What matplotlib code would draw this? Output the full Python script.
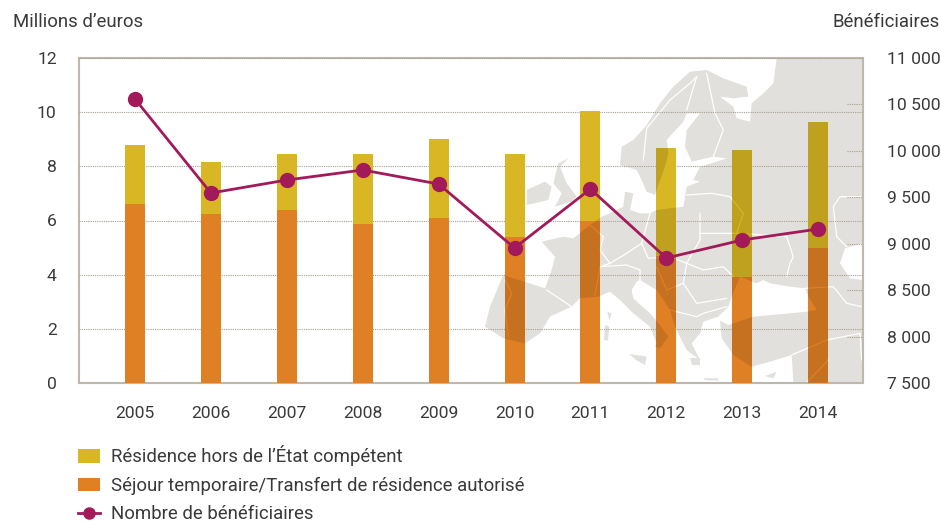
import matplotlib
matplotlib.use("Agg")
import matplotlib.pyplot as plt
from matplotlib.patches import Polygon
from matplotlib.path import Path
from matplotlib.lines import Line2D
from matplotlib.transforms import Affine2D

plt.rcParams['font.family'] = ['Roboto', 'DejaVu Sans']

years = [2005, 2006, 2007, 2008, 2009, 2010, 2011, 2012, 2013, 2014]
sejour = [6.60, 6.25, 6.38, 5.87, 6.08, 5.40, 5.98, 4.70, 3.91, 4.98]
hors_etat = [2.19, 1.91, 2.08, 2.59, 2.93, 3.06, 4.06, 3.98, 4.69, 4.66]
beneficiaires = [10558, 9546, 9686, 9794, 9643, 8954, 9589, 8846, 9040, 9158]
left_ticks = [0, 2, 4, 6, 8, 10, 12]
right_ticks = [7500, 8000, 8500, 9000, 9500, 10000, 10500, 11000]
right_labels = ['7 500', '8 000', '8 500', '9 000', '9 500', '10 000', '10 500', '11 000']
label_hors = "Résidence hors de l’État compétent"
label_sejour = "Séjour temporaire/Transfert de résidence autorisé"
label_benef = "Nombre de bénéficiaires"

YELLOW, ORANGE, PURPLE = '#D9B624', '#E08025', '#A31A5B'
MAP = '#E2E0DC'
FRAME = '#BFB8AE'
GRID = '#A89E92'
TEXT = '#3A3A3A'
W, H = 941, 522
STEP = 75.9

# Decorative background map, traced in crop coordinates
land = [
 (450,345),(500,360),(510,380),(530,425),(555,435),(565,405),(585,350),(595,310),(590,270),(640,215),
 (650,190),(690,190),(650,240),(645,290),(665,335),(730,320),(770,325),(740,335),(690,350),(670,390),
 (690,395),(650,410),(640,470),(560,480),(540,490),(510,490),(480,480),(490,430),(465,425),(460,470),
 (420,490),(395,500),(360,525),(310,565),(280,560),(215,575),(255,620),(245,660),(225,715),(100,675),
 (60,770),(45,830),(100,865),(165,880),(210,850),(240,800),(305,770),(330,745),(385,740),(420,725),
 (450,750),(490,790),(540,830),(560,880),(555,890),(570,895),(595,860),(570,825),(540,790),(490,745),
 (485,720),(500,695),(510,690),(560,720),(600,780),(615,830),(640,880),(650,900),(690,930),(665,880),
 (690,850),(700,815),(745,800),(775,770),(785,740),(810,680),(860,700),(880,690),(900,700),(960,710),
 (1005,715),(1015,740),(1040,780),(1010,785),(960,790),(850,800),(775,825),(750,812),(755,865),(790,915),
 (845,950),(900,935),(965,915),(970,998),(1178,998),(1178,690),(1140,685),(1110,640),(1125,595),(1178,580),
 (1178,24),(920,24),(910,100),(880,130),(845,160),(840,215),(800,205),(790,170),(750,140),(790,145),
 (835,140),(830,110),(760,85),(710,60),(660,65),(610,110),(570,160),(530,225),(490,270),(455,290)]
islands = [
 [(295,325),(270,350),(290,400),(320,440),(305,455),(255,470),(275,430),(250,400),(265,340)],
 [(170,420),(225,395),(245,410),(235,450),(170,465)],
 [(478,912),(530,920),(525,945),(495,928)],
 [(412,785),(425,790),(418,812)],
 [(405,825),(418,830),(414,872),(402,870)],
 [(885,978),(920,965),(910,985)],
 [(700,985),(745,985),(745,992),(705,990)],
 [(660,925),(690,925),(690,945),(665,945)],
]
borders = [
 [(105,690),(125,730),(105,780),(115,860)],
 [(230,720),(305,770)],
 [(360,525),(400,560),(390,600),(420,640),(390,650),(385,680),(375,735)],
 [(390,650),(470,645),(510,660),(510,690)],
 [(540,490),(515,580),(535,625),(600,620),(650,640),(690,570),(690,490)],
 [(515,580),(470,610),(420,640)],
 [(520,330),(530,235),(600,150),(660,100),(680,80)],
 [(680,80),(650,180)],
 [(710,70),(735,190),(760,240),(730,320)],
 [(650,435),(725,430),(780,440),(820,490),(800,550)],
 [(690,550),(800,550),(950,560),(970,620),(960,640),(950,680)],
 [(650,640),(700,660),(760,650),(790,680)],
 [(650,640),(640,700),(680,760),(770,745)],
 [(560,650),(590,720),(640,700)],
 [(600,780),(640,790),(680,800),(700,790),(770,770)],
 [(1005,715),(1090,710),(1130,760),(1175,770)],
 [(965,915),(1070,870),(1170,850),(1175,930)],
 [(1090,470),(1110,440),(1178,440)],
 [(1090,470),(1100,560),(1130,590)],
 [(1075,930),(1010,998)],
]

fig = plt.figure(figsize=(W/100, H/100), dpi=100)
ax = fig.add_axes([79/W, 1-383/H, (863-79)/W, (383-58)/H])
ax.set_xlim((79-135)/STEP, (863-135)/STEP)
ax.set_ylim(0, 12)

px = Affine2D().scale(1/3).translate(470, 50).scale(1, -1).translate(0, H)

def map_patches(**kw):
    out = []
    for pts in [land] + islands:
        p = Polygon(pts, closed=True, transform=px, **kw)
        ax.add_patch(p)
        out.append(p)
    return out

def border_lines(color, lw, z):
    out = []
    for b in borders:
        l = Line2D([q[0] for q in b], [q[1] for q in b], transform=px, color=color, lw=lw, zorder=z)
        ax.add_line(l)
        out.append(l)
    return out

map_patches(facecolor=MAP, edgecolor='none', zorder=1)
border_lines('white', 0.9, 1.1)

ax.set_yticks(left_ticks)
ax.set_xticks(range(len(years)), [str(y) for y in years])
ax.grid(axis='y', linestyle=(0, (1, 1)), color=GRID, lw=0.8, zorder=2)
ax.set_axisbelow(False)
for gl in ax.get_ygridlines():
    gl.set_zorder(2)

x = list(range(len(years)))
b1 = ax.bar(x, sejour, width=20/STEP, color=ORANGE, zorder=3, label=label_sejour)
b2 = ax.bar(x, hors_etat, bottom=sejour, width=20/STEP, color=YELLOW, zorder=3, label=label_hors)

def rects(bars):
    return Path.make_compound_path(*[b.get_path().transformed(b.get_patch_transform()) for b in bars])
clip_o, clip_y = rects(b1), rects(b2)
clip_all = Path.make_compound_path(clip_o, clip_y)

# multiply effect of the map under the translucent bars
for p in map_patches(facecolor='black', edgecolor='none', alpha=0.115, zorder=4):
    p.set_clip_path(clip_all, ax.transData)
for l in border_lines(ORANGE, 0.8, 4.1):
    l.set_clip_path(clip_o, ax.transData)
for l in border_lines(YELLOW, 0.8, 4.1):
    l.set_clip_path(clip_y, ax.transData)

for s in ax.spines.values():
    s.set_color(FRAME)
    s.set_linewidth(1.5)
ax.tick_params(axis='both', length=0, labelsize=12.6, labelcolor=TEXT)
ax.tick_params(axis='x', pad=16.3)
ax.tick_params(axis='y', pad=16)

ax2 = ax.twinx()
ax2.set_ylim(7500, 11000)
ax2.set_yticks(right_ticks, right_labels)
ax2.tick_params(axis='y', length=0, labelsize=12.6, labelcolor=TEXT, pad=17)
for s in ax2.spines.values():
    s.set_visible(False)
ax2.hlines(right_ticks[1:-1], 0.98, 1.0, transform=ax2.get_yaxis_transform(),
           colors=GRID, linestyles=[(0, (1, 1))], lw=0.8, zorder=2)
line, = ax2.plot(x, beneficiaires, color=PURPLE, lw=2, marker='o', ms=10,
                 mec=PURPLE, mfc=PURPLE, zorder=6, label=label_benef)

TXT = 13.4
fig.text(13/W, 1-22/H, "Millions d’euros", fontsize=TXT, color=TEXT, ha='left', va='center')
fig.text(940/W, 1-22/H, "Bénéficiaires", fontsize=TXT, color=TEXT, ha='right', va='center')

leg_line = Line2D([], [], color=PURPLE, lw=2, marker='o', ms=8, mec=PURPLE, mfc=PURPLE)
leg = fig.legend([b2[0], b1[0], leg_line], [label_hors, label_sejour, label_benef],
                 loc='upper left', bbox_to_anchor=(78/W, 1-445.5/H), bbox_transform=fig.transFigure,
                 frameon=False, fontsize=TXT, borderpad=0, borderaxespad=0,
                 handlelength=1.17, handleheight=0.7, handletextpad=0.59, labelspacing=0.56,
                 labelcolor=TEXT)

fig.savefig('out.png', dpi=100)
